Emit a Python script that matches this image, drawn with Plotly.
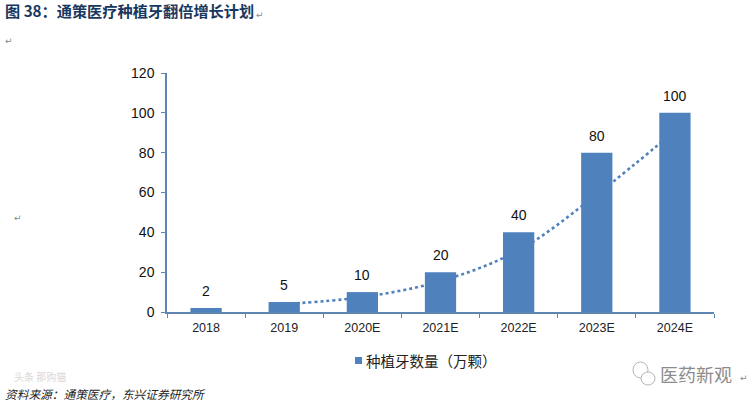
import plotly.graph_objects as go

years = ["2018", "2019", "2020E", "2021E", "2022E", "2023E", "2024E"]
implants = [2, 5, 10, 20, 40, 80, 100]
trend_years = ["2019", "2020E", "2021E", "2022E", "2023E", "2024E"]
trend_values = [4, 7.5, 15.5, 31, 59, 91]
series_name = "种植牙数量（万颗）"
title_text = "图 38：通策医疗种植牙翻倍增长计划"
source_text = "资料来源：通策医疗，东兴证券研究所"
mark_text = "医药新观"
faint_text = "头条 那购猫"

BLUE = "#4f81bd"
AXIS = "#5f86b3"
CJK = "Noto Sans CJK SC"
LAT = "Liberation Sans, " + CJK
W, H = 755, 404
L, R, T, B = 167, 41, 73, 92


def pos_x(x):
    return (x - L) / (W - L - R)


def pos_y(y):
    return ((H - B) - y) / (H - T - B)


def note(x, y, text, family, size, color, anchor="left"):
    return dict(xref="paper", yref="paper", x=pos_x(x), y=pos_y(y),
                text=text, xanchor=anchor, yanchor="middle", showarrow=False,
                font=dict(family=family, size=size, color=color))


fig = go.Figure()
fig.add_trace(go.Scatter(
    x=trend_years, y=trend_values, mode="lines", xaxis="x", yaxis="y",
    line=dict(color=BLUE, width=2.6, dash="dot", shape="spline"),
    showlegend=False, hoverinfo="skip",
))
fig.add_trace(go.Bar(
    x=years, y=implants, name=series_name, xaxis="x2", yaxis="y",
    marker=dict(color=BLUE, line=dict(width=0)), cliponaxis=False,
    showlegend=False,
))

annotations = [
    note(3, 10, f"<b>{title_text}</b>", CJK, 15.2, "#17375e"),
    note(260, 15, "↵", "DejaVu Sans", 9, "#888888", "center"),
    note(9, 41, "↵", "DejaVu Sans", 9, "#888888", "center"),
    note(18, 218, "↵", "DejaVu Sans", 9, "#888888", "center"),
    note(364, 360, series_name, CJK, 14.5, "#222222"),
    note(12, 376, faint_text, CJK, 10, "#d8d8d8"),
    note(3, 393, f"<i>{source_text}</i>", CJK, 11.7, "#222222"),
    note(658, 374, mark_text, CJK, 18, "#8c8c8c"),
    note(744, 378, "↵", "DejaVu Sans", 9, "#888888", "center"),
]
for index, value in enumerate(implants):
    annotations.append(dict(
        xref="x2", yref="y", x=index, y=value, text=str(value), showarrow=False,
        xanchor="center", yanchor="bottom", yshift=7,
        font=dict(family=LAT, size=14, color="#111111"),
    ))

shapes = [
    dict(type="rect", xref="paper", yref="paper", x0=pos_x(355), x1=pos_x(362), y0=pos_y(364), y1=pos_y(357),
         line=dict(width=0), fillcolor=BLUE),
    dict(type="circle", xref="paper", yref="paper", x0=pos_x(633), x1=pos_x(648), y0=pos_y(378), y1=pos_y(362),
         line=dict(color="#b5b5b5", width=1), fillcolor="white"),
    dict(type="circle", xref="paper", yref="paper", x0=pos_x(641), x1=pos_x(655), y0=pos_y(385), y1=pos_y(372),
         line=dict(color="#b5b5b5", width=1), fillcolor="white"),
]

cat_range = [-0.5, 6.5]
fig.update_layout(
    width=W, height=H, autosize=False,
    margin=dict(l=L, r=R, t=T, b=B, autoexpand=False),
    paper_bgcolor="white", plot_bgcolor="white",
    bargap=0.6, showlegend=False,
    xaxis=dict(type="category", categoryorder="array", categoryarray=years, range=cat_range,
               anchor="y", showgrid=False, showline=True, linecolor=AXIS, linewidth=1.5,
               ticks="outside", ticklen=4, tickcolor=AXIS, tickson="boundaries",
               ticklabelstandoff=3,
               tickfont=dict(family=LAT, size=12.5, color="#222222"), zeroline=False),
    xaxis2=dict(type="category", categoryorder="array", categoryarray=years, range=cat_range,
                overlaying="x", anchor="y", showticklabels=False, showgrid=False, showline=False,
                ticks="", zeroline=False),
    yaxis=dict(range=[0, 120], dtick=20, showgrid=False, showline=True,
               linecolor=AXIS, linewidth=1.5, ticks="outside", ticklen=4, tickcolor=AXIS,
               ticklabelstandoff=4,
               tickfont=dict(family=LAT, size=14, color="#111111"), zeroline=False),
    annotations=annotations, shapes=shapes, font=dict(family=LAT),
)
fig.write_html("out.html", post_script="document.body.style.margin='0';",
               config={"displayModeBar": False})
